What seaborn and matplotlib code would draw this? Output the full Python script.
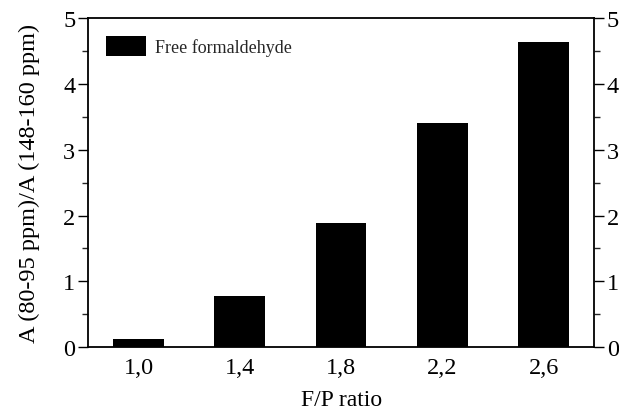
import matplotlib
matplotlib.use("Agg")
import matplotlib.pyplot as plt
import seaborn as sns
import pandas as pd
from matplotlib.ticker import MultipleLocator

categories = ["1,0", "1,4", "1,8", "2,2", "2,6"]
ratio_values = [0.13, 0.78, 1.89, 3.40, 4.63]
series_name = "Free formaldehyde"

df = pd.DataFrame({"F/P ratio": categories, "value": ratio_values, "series": series_name})

sns.set_theme(style="white")
plt.rcParams["font.family"] = ["Liberation Serif", "DejaVu Serif"]

fig = plt.figure(figsize=(6.19, 4.14), dpi=100)
ax = fig.add_axes([0.142, 0.159, 0.818, 0.795])

sns.barplot(data=df, x="F/P ratio", y="value", hue="series", palette=["black"],
            width=0.5, edgecolor="black", linewidth=0, ax=ax, legend=True)

ax.set_xlim(-0.5, 4.5)
ax.set_ylim(0, 5)
ax.yaxis.set_major_locator(MultipleLocator(1))
ax.yaxis.set_minor_locator(MultipleLocator(0.5))
ax.tick_params(axis="y", which="major", direction="out", length=7, width=1,
               left=True, right=True, labelleft=True, labelright=True,
               labelsize=17.5, pad=2, colors="black")
ax.tick_params(axis="y", which="minor", direction="out", length=4, width=1,
               left=True, right=True)
ax.tick_params(axis="x", which="both", length=0, labelsize=17.5, pad=7, colors="black")

for s in ax.spines.values():
    s.set_visible(True)
    s.set_color("black")
    s.set_linewidth(1.3)

ax.set_xlabel("F/P ratio", fontsize=17, labelpad=8, color="black")
ax.set_ylabel("A (80-95 ppm)/A (148-160 ppm)", fontsize=17.5, labelpad=17, color="black")

leg = ax.legend(loc="upper left", frameon=False, fontsize=13,
                handlelength=2.2, handleheight=1.35, handletextpad=0.5,
                borderaxespad=0.6, bbox_to_anchor=(0.0, 1.0))

fig.savefig("out.png", dpi=100)
